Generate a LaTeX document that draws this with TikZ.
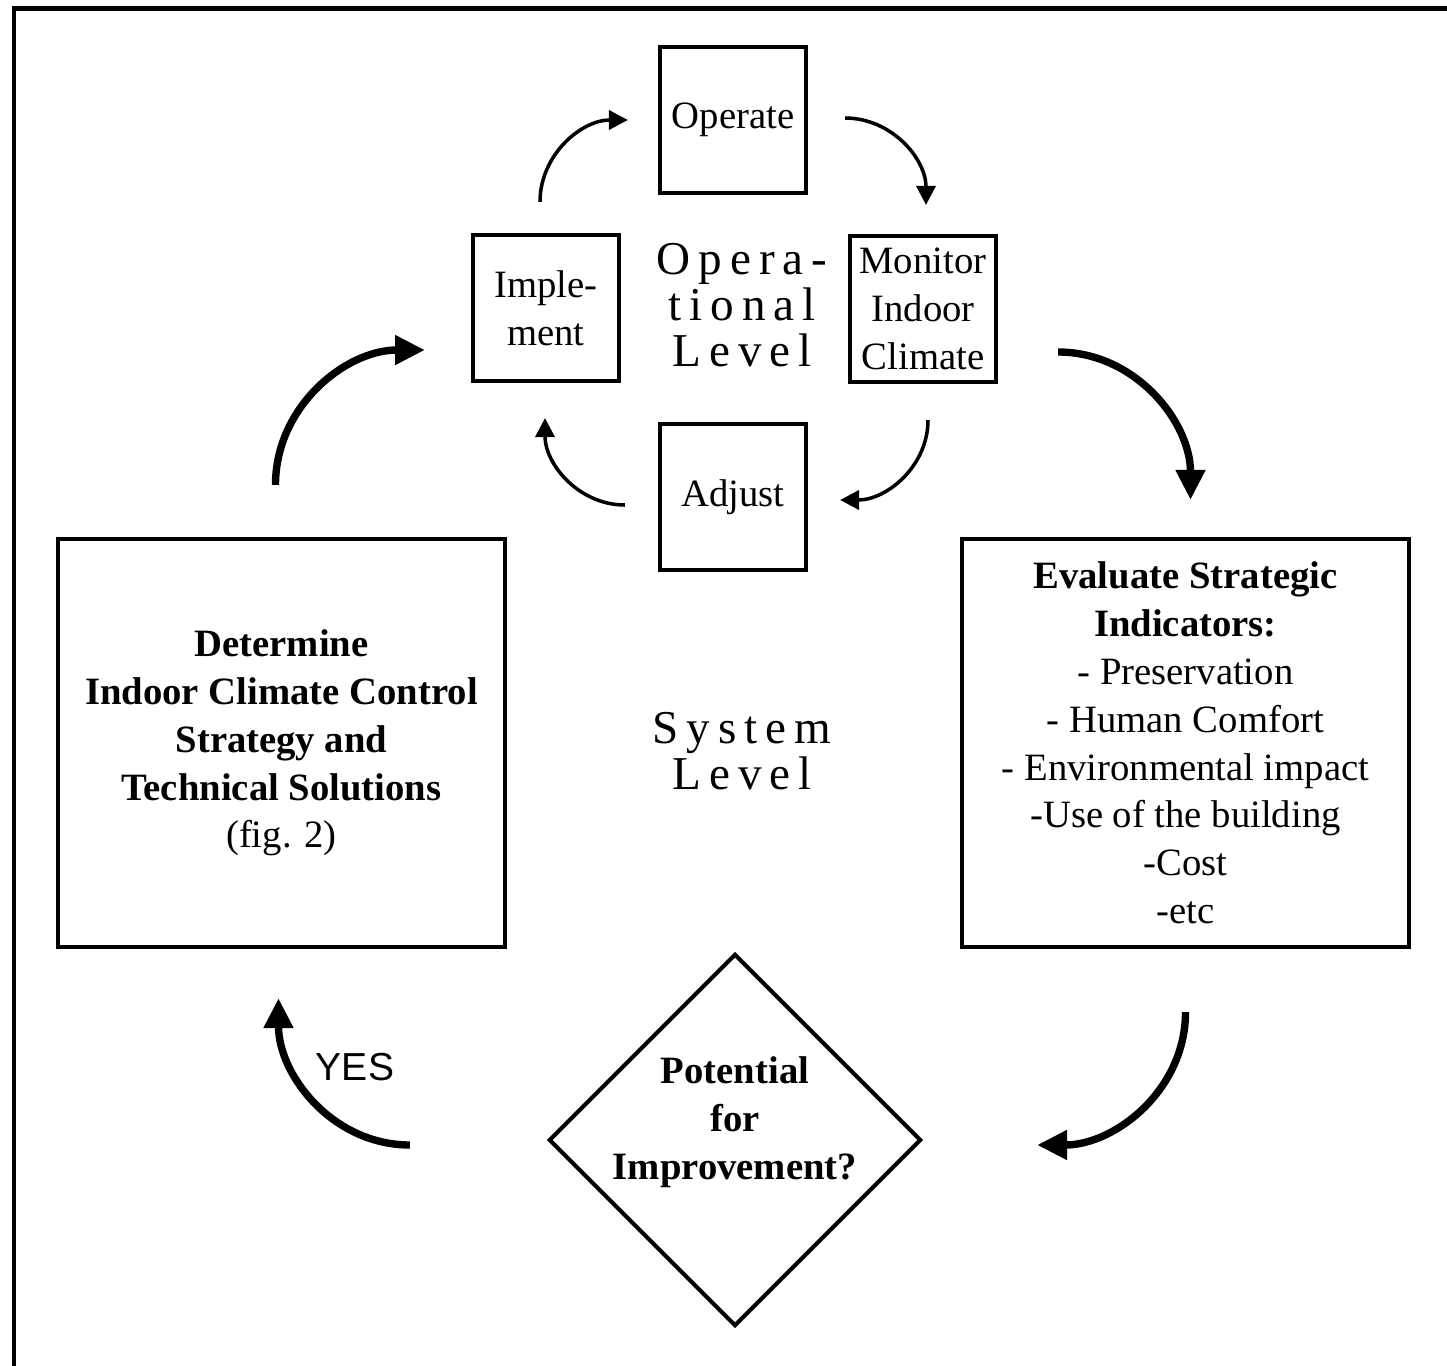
\documentclass[tikz,border=0pt]{standalone}
\usepackage{fontspec}
\setmainfont{Liberation Serif}
\newfontfamily\yesfont{Liberation Sans}
\newfontfamily\spacedfont[LetterSpace=17]{Liberation Serif}
\usepackage{tikz}
\usetikzlibrary{arrows.meta,positioning,shapes.geometric,calc}

\begin{document}
\begin{tikzpicture}[x=0.01cm,y=0.01cm,font=\fontsize{11}{13.6}\selectfont]
    \tikzstyle{sm}=[draw,line width=1.15pt,minimum width=1.46cm,minimum height=1.46cm,align=center,inner sep=1pt]
    \tikzstyle{big}=[draw,line width=1.15pt,minimum width=4.47cm,minimum height=4.08cm,align=center]
    \tikzstyle{lvl}=[align=center,font=\spacedfont\fontsize{13.4}{13.1}\selectfont]
    \tikzstyle{thin}=[line width=1pt,-{Triangle[length=5.4pt,width=5.4pt]}]
    \tikzstyle{thick}=[line width=2.1pt,-{Triangle[length=8.5pt,width=8pt]}]
    \useasboundingbox (0,0) rectangle (1447,-1366);
    \draw[line width=1.4pt] (1447,-8.5) -- (14,-8.5) -- (14,-1366);
    % operational level
    \node[sm] (op)   at (733,-120) {Operate};
    \node[sm] (impl) at (546,-308) {Imple-\\ment};
    \node[sm] (mon)  at (923,-309) {Monitor\\Indoor\\Climate};
    \node[sm] (adj)  at (733,-497) {Adjust};
    \node[lvl] (opl) at (742,-305) {Opera-\\tional\\Level};
    % system level
    \node[lvl] (sysl) at (742,-751) {System\\Level};
    \node[big] (det)  at (281.5,-743) {\textbf{Determine}\\\textbf{Indoor Climate Control}\\\textbf{Strategy and}\\\textbf{Technical Solutions}\\(fig. 2)};
    \node[big] (eval) at (1185.5,-743) {\textbf{Evaluate Strategic}\\\textbf{Indicators:}\\- Preservation\\- Human Comfort\\- Environmental impact\\-Use of the building\\-Cost\\-etc};
    \node[draw,line width=1.15pt,diamond,aspect=1,minimum width=3.72cm,minimum height=3.72cm,inner sep=0pt] (pot) at (735,-1140) {};
    \node[align=center,font=\bfseries\fontsize{11}{13.6}\selectfont] (potl) at (735,-1122) {Potential\\for\\Improvement?};
    \node[font=\yesfont\fontsize{11.1}{13}\selectfont] (yes) at (355,-1067) {YES};
    % inner loop
    \draw[thin] ($(impl.north)+(-6,31)$) to[out=90,in=180] ($(op.west)+(-30,0)$);
    \draw[thin] ($(op.east)+(37,2)$) to[out=0,in=90] ($(mon.north)+(3,29)$);
    \draw[thin] ($(mon.south)+(5,-36)$) to[out=-90,in=0] ($(adj.east)+(32,-3)$);
    \draw[thin] ($(adj.west)+(-33,-8)$) to[out=180,in=-90] ($(impl.south)+(-1,-35)$);
    % outer loop
    \draw[thick] ($(mon.east)+(60,-43)$) to[out=0,in=90] ($(eval.north)+(5,37)$);
    \draw[thick] ($(eval.south)+(0,-63)$) to[out=-90,in=0] ($(pot.east)+(114,-5)$);
    \draw[thick] ($(pot.west)+(-137,-5)$) to[out=180,in=-90] ($(det.south)+(-3,-49)$);
    \draw[thick] ($(det.north)+(-6,52)$) to[out=90,in=180] ($(impl.west)+(-46,-42)$);
  \end{tikzpicture}
\end{document}
